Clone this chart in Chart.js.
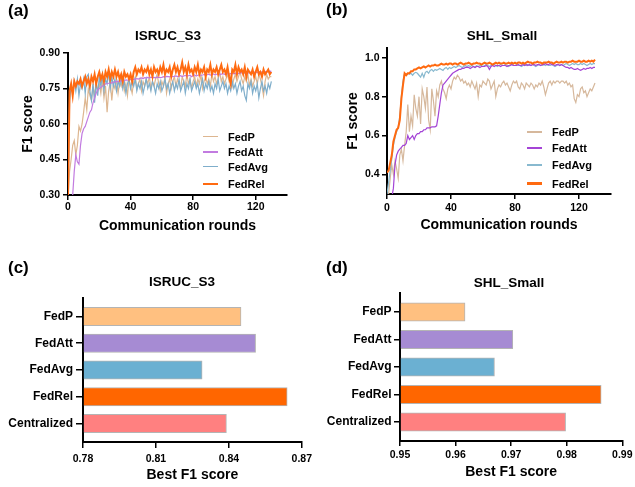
<!DOCTYPE html>
<html>
<head>
<meta charset="utf-8">
<script src="https://cdn.jsdelivr.net/npm/chart.js@4.4.1/dist/chart.umd.min.js"></script>
<style>
  body { margin: 0; background: #fff; }
  #page { position: relative; width: 635px; height: 487px; background: #fff; overflow: hidden;
          font-family: "Liberation Sans", Arial, sans-serif; font-weight: bold; color: #000; }
  canvas { position: absolute; }
  .lbl { position: absolute; font-size: 17px; line-height: 20px; }
  .ttl { position: absolute; font-size: 13.5px; line-height: 16px; transform: translate(-50%, -50%); white-space: nowrap; }
  .leg { position: absolute; font-size: 11px; line-height: 12px; white-space: nowrap; }
  .leg span { display: inline-block; vertical-align: middle; }
</style>
</head>
<body>
<div id="page">
  <canvas id="chartA" width="317" height="243" style="left:0;top:0"></canvas>
  <canvas id="chartB" width="317" height="243" style="left:318px;top:0"></canvas>
  <canvas id="chartC" width="317" height="237" style="left:0;top:250px"></canvas>
  <canvas id="chartD" width="317" height="237" style="left:318px;top:250px"></canvas>
</div>
<script>
'use strict';

/*********** DATA ***********/
var rounds = [];
for (var r = 0; r <= 130; r++) { rounds.push(r); }

var methods = ['FedP', 'FedAtt', 'FedAvg', 'FedRel'];
var barCategories = ['FedP', 'FedAtt', 'FedAvg', 'FedRel', 'Centralized'];
var barIndex = [0, 1, 2, 3, 4];

// ISRUC_S3, F1 per communication round
var isrucFedP = [0.28,0.40,0.45,0.51,0.53,0.47,0.51,0.59,0.57,0.60,
  0.65,0.71,0.66,0.75,0.72,0.70,0.76,0.72,0.78,0.74,
  0.77,0.73,0.79,0.71,0.76,0.65,0.74,0.78,0.70,0.77,
  0.75,0.79,0.73,0.78,0.76,0.80,0.74,0.77,0.72,0.79,
  0.76,0.73,0.78,0.80,0.75,0.77,0.79,0.74,0.78,0.76,
  0.79,0.77,0.80,0.75,0.78,0.76,0.79,0.81,0.77,0.74,
  0.78,0.76,0.80,0.73,0.77,0.79,0.75,0.78,0.80,0.76,
  0.79,0.77,0.75,0.80,0.78,0.76,0.81,0.77,0.79,0.75,
  0.78,0.80,0.76,0.79,0.77,0.81,0.75,0.78,0.80,0.77,
  0.79,0.76,0.81,0.78,0.80,0.77,0.79,0.82,0.78,0.80,
  0.77,0.79,0.81,0.78,0.80,0.76,0.79,0.81,0.78,0.80,
  0.82,0.79,0.77,0.80,0.78,0.81,0.76,0.79,0.76,0.78,
  0.80,0.77,0.81,0.79,0.76,0.72,0.78,0.81,0.79,0.80,
  0.80];
var isrucFedAtt = [0.20,0.22,0.25,0.30,0.40,0.47,0.44,0.43,0.51,0.56,
  0.58,0.59,0.61,0.63,0.65,0.66,0.69,0.71,0.73,0.745,
  0.75,0.755,0.76,0.765,0.77,0.77,0.772,0.775,0.773,0.777,
  0.778,0.78,0.779,0.782,0.78,0.784,0.783,0.786,0.785,0.787,
  0.788,0.786,0.79,0.789,0.792,0.79,0.793,0.795,0.792,0.796,
  0.795,0.797,0.794,0.798,0.796,0.797,0.795,0.798,0.797,0.796,
  0.797,0.80,0.798,0.801,0.80,0.799,0.802,0.80,0.801,0.803,
  0.80,0.802,0.804,0.80,0.803,0.805,0.802,0.804,0.806,0.80,
  0.805,0.807,0.803,0.806,0.808,0.805,0.807,0.809,0.806,0.808,
  0.81,0.807,0.809,0.811,0.808,0.81,0.812,0.809,0.811,0.813,
  0.81,0.812,0.814,0.811,0.813,0.815,0.812,0.814,0.816,0.813,
  0.815,0.817,0.814,0.816,0.818,0.815,0.817,0.819,0.816,0.818,
  0.82,0.817,0.819,0.821,0.818,0.82,0.822,0.819,0.821,0.823,
  0.822];
var isrucFedAvg = [0.30,0.70,0.76,0.73,0.78,0.74,0.79,0.72,0.77,0.75,
  0.79,0.73,0.80,0.81,0.74,0.70,0.77,0.69,0.78,0.72,
  0.80,0.76,0.81,0.74,0.79,0.77,0.82,0.75,0.80,0.76,
  0.79,0.74,0.78,0.76,0.80,0.75,0.78,0.73,0.77,0.79,
  0.75,0.78,0.76,0.79,0.74,0.77,0.75,0.78,0.73,0.76,
  0.79,0.75,0.77,0.74,0.78,0.76,0.73,0.77,0.75,0.78,
  0.74,0.76,0.79,0.75,0.77,0.73,0.76,0.78,0.74,0.77,
  0.75,0.79,0.74,0.76,0.78,0.73,0.77,0.75,0.79,0.74,
  0.76,0.78,0.75,0.77,0.73,0.76,0.79,0.74,0.77,0.75,
  0.78,0.74,0.76,0.73,0.77,0.75,0.79,0.74,0.76,0.78,
  0.75,0.77,0.73,0.76,0.74,0.78,0.75,0.77,0.73,0.76,
  0.78,0.74,0.76,0.72,0.70,0.77,0.75,0.78,0.73,0.76,
  0.74,0.77,0.71,0.75,0.78,0.74,0.76,0.73,0.77,0.75,
  0.78];
var isrucFedRel = [0.30,0.74,0.77,0.72,0.78,0.76,0.78,0.77,0.79,0.76,
  0.78,0.80,0.77,0.79,0.76,0.80,0.78,0.81,0.77,0.80,
  0.82,0.79,0.81,0.78,0.82,0.80,0.83,0.79,0.82,0.80,
  0.83,0.80,0.82,0.79,0.81,0.78,0.82,0.80,0.81,0.79,
  0.81,0.78,0.82,0.84,0.81,0.83,0.82,0.84,0.81,0.83,
  0.82,0.84,0.81,0.83,0.80,0.84,0.82,0.83,0.81,0.84,
  0.82,0.85,0.81,0.83,0.82,0.84,0.80,0.83,0.85,0.82,
  0.84,0.81,0.83,0.86,0.82,0.84,0.81,0.85,0.82,0.83,
  0.81,0.84,0.82,0.85,0.81,0.83,0.82,0.84,0.80,0.83,
  0.82,0.85,0.81,0.83,0.82,0.84,0.81,0.83,0.85,0.82,
  0.83,0.81,0.84,0.80,0.77,0.83,0.82,0.85,0.81,0.84,
  0.82,0.83,0.81,0.84,0.80,0.83,0.82,0.81,0.83,0.80,
  0.82,0.84,0.81,0.82,0.80,0.83,0.81,0.82,0.83,0.81,
  0.82];

// SHL_Small, F1 per communication round
var shlFedP = [0.22,0.30,0.38,0.45,0.40,0.47,0.43,0.38,0.50,0.53,
  0.47,0.55,0.62,0.76,0.62,0.70,0.65,0.81,0.74,0.70,
  0.80,0.66,0.84,0.80,0.74,0.85,0.68,0.63,0.84,0.78,
  0.70,0.83,0.80,0.86,0.88,0.84,0.82,0.79,0.84,0.86,
  0.84,0.88,0.90,0.89,0.91,0.90,0.88,0.89,0.87,0.88,
  0.86,0.87,0.85,0.88,0.86,0.84,0.87,0.80,0.86,0.85,
  0.88,0.87,0.86,0.89,0.88,0.84,0.86,0.88,0.80,0.84,
  0.86,0.85,0.87,0.88,0.86,0.87,0.85,0.83,0.86,0.88,
  0.87,0.88,0.85,0.84,0.87,0.86,0.84,0.87,0.86,0.85,
  0.87,0.86,0.84,0.86,0.85,0.87,0.86,0.88,0.85,0.81,
  0.84,0.87,0.88,0.86,0.88,0.87,0.88,0.88,0.87,0.88,
  0.88,0.87,0.88,0.86,0.87,0.85,0.86,0.79,0.77,0.81,
  0.80,0.84,0.85,0.82,0.83,0.80,0.82,0.84,0.83,0.85,
  0.87];
var shlFedAtt = [0.20,0.22,0.25,0.28,0.33,0.45,0.50,0.52,0.53,0.54,
  0.55,0.55,0.56,0.60,0.58,0.59,0.60,0.58,0.60,0.61,
  0.61,0.62,0.62,0.63,0.63,0.64,0.64,0.64,0.645,0.645,
  0.645,0.65,0.70,0.76,0.82,0.86,0.87,0.88,0.89,0.90,
  0.91,0.92,0.925,0.93,0.935,0.94,0.94,0.945,0.945,0.95,
  0.95,0.95,0.945,0.95,0.955,0.95,0.955,0.955,0.95,0.955,
  0.955,0.955,0.96,0.955,0.94,0.955,0.96,0.955,0.96,0.96,
  0.96,0.955,0.96,0.96,0.96,0.955,0.96,0.96,0.965,0.96,
  0.96,0.96,0.965,0.96,0.96,0.965,0.96,0.965,0.96,0.965,
  0.96,0.965,0.965,0.96,0.965,0.965,0.96,0.965,0.965,0.97,
  0.965,0.965,0.97,0.965,0.965,0.96,0.965,0.965,0.96,0.965,
  0.96,0.955,0.95,0.95,0.945,0.95,0.945,0.94,0.94,0.945,
  0.94,0.935,0.94,0.945,0.94,0.945,0.945,0.95,0.945,0.95,
  0.95];
var shlFedAvg = [0.30,0.36,0.42,0.48,0.55,0.59,0.62,0.64,0.70,0.80,
  0.88,0.92,0.91,0.92,0.915,0.92,0.91,0.92,0.925,0.92,
  0.91,0.90,0.92,0.90,0.925,0.93,0.92,0.935,0.94,0.93,
  0.94,0.935,0.94,0.945,0.94,0.935,0.945,0.95,0.94,0.95,
  0.945,0.95,0.955,0.95,0.955,0.96,0.955,0.95,0.955,0.96,
  0.955,0.96,0.955,0.96,0.955,0.95,0.96,0.955,0.96,0.96,
  0.955,0.96,0.965,0.96,0.955,0.96,0.96,0.965,0.96,0.955,
  0.96,0.965,0.96,0.96,0.965,0.96,0.955,0.96,0.965,0.96,
  0.96,0.965,0.96,0.96,0.955,0.96,0.965,0.96,0.965,0.96,
  0.96,0.965,0.96,0.955,0.96,0.965,0.96,0.96,0.965,0.96,
  0.965,0.96,0.96,0.965,0.96,0.955,0.96,0.965,0.96,0.965,
  0.96,0.965,0.97,0.965,0.96,0.965,0.97,0.965,0.97,0.965,
  0.965,0.97,0.965,0.97,0.965,0.96,0.965,0.97,0.965,0.97,
  0.97];
var shlFedRel = [0.41,0.42,0.46,0.50,0.57,0.60,0.63,0.64,0.68,0.79,
  0.86,0.92,0.91,0.92,0.92,0.93,0.93,0.94,0.94,0.945,
  0.95,0.945,0.95,0.955,0.95,0.955,0.96,0.955,0.96,0.96,
  0.965,0.96,0.96,0.965,0.97,0.965,0.965,0.97,0.965,0.97,
  0.97,0.965,0.97,0.97,0.965,0.97,0.975,0.97,0.965,0.97,
  0.97,0.975,0.97,0.965,0.97,0.97,0.975,0.97,0.97,0.965,
  0.97,0.975,0.97,0.97,0.975,0.97,0.965,0.97,0.975,0.97,
  0.975,0.97,0.97,0.975,0.97,0.97,0.975,0.97,0.975,0.97,
  0.975,0.97,0.975,0.975,0.97,0.975,0.97,0.975,0.98,0.975,
  0.975,0.97,0.975,0.975,0.98,0.975,0.975,0.97,0.975,0.975,
  0.975,0.98,0.975,0.975,0.97,0.975,0.98,0.975,0.975,0.98,
  0.975,0.98,0.98,0.975,0.98,0.98,0.985,0.98,0.98,0.98,
  0.985,0.98,0.98,0.985,0.98,0.98,0.985,0.98,0.985,0.98,
  0.99];

// best F1 score per method
var isrucBest = [0.845, 0.851, 0.829, 0.864, 0.839];
var shlBest = [0.9617, 0.9703, 0.9670, 0.9862, 0.9798];

// ticks
var roundTicks = [0, 40, 80, 120];
var roundLabels = ['0', '40', '80', '120'];
var isrucYTicks = [0.30, 0.45, 0.60, 0.75, 0.90];
var isrucYLabels = ['0.30', '0.45', '0.60', '0.75', '0.90'];
var shlYTicks = [0.4, 0.6, 0.8, 1.0];
var shlYLabels = ['0.4', '0.6', '0.8', '1.0'];
var isrucBestTicks = [0.78, 0.81, 0.84, 0.87];
var isrucBestLabels = ['0.78', '0.81', '0.84', '0.87'];
var shlBestTicks = [0.95, 0.96, 0.97, 0.98, 0.99];
var shlBestLabels = ['0.95', '0.96', '0.97', '0.98', '0.99'];

/*********** STYLES ***********/
var isrucColors = ['#DDB690', '#C27BE0', '#7FAECB', '#FF6A10'];
var shlColors = ['#D6B89C', '#A444D6', '#88B9CF', '#FF6A10'];
var lineOrder = [3, 1, 2, 0];
var barColors = ['#FFC080', '#A68BD3', '#6BB0D2', '#FF6600', '#FF8080'];
var fontFamily = '"Liberation Sans", Arial, sans-serif';
var tickFont = { family: fontFamily, size: 10.5, weight: 'bold' };
var catFont = { family: fontFamily, size: 12, weight: 'bold' };
var axisTitleFont = { family: fontFamily, size: 14, weight: 'bold' };

/*********** FUNCTIONS ***********/
function fixedTicks(values) {
  return function (scale) {
    scale.ticks = values.map(function (v) { return { value: v }; });
  };
}

function axisGrid(tickLength) {
  return { display: true, drawOnChartArea: false, drawTicks: true, offset: false, tickLength: tickLength, color: '#000', lineWidth: 1.5 };
}

var axisBorder = { display: true, color: '#000', width: 2 };

function drawLineChart(canvasId, series, colors, yMin, yMax, yTicks, yLabels, box) {
  var datasets = [];
  for (var i = 0; i < methods.length; i++) {
    datasets.push({
      label: methods[i],
      data: series[i],
      borderColor: colors[i],
      backgroundColor: colors[i],
      borderWidth: methods[i] === 'FedRel' ? 2 : 1.2,
      pointRadius: 0,
      tension: 0,
      fill: false,
      order: lineOrder[i]
    });
  }
  new Chart(document.getElementById(canvasId), {
    type: 'line',
    data: { labels: rounds, datasets: datasets },
    options: {
      responsive: false,
      animation: false,
      layout: { padding: box.padding },
      plugins: { legend: { display: false }, tooltip: { enabled: false } },
      scales: {
        x: {
          type: 'linear', min: 0, max: 140,
          afterBuildTicks: fixedTicks(roundTicks),
          afterFit: function (s) { s.height = box.xHeight; },
          ticks: { callback: function (v, idx) { return roundLabels[idx]; }, font: tickFont, color: '#000', padding: box.xPad, maxRotation: 0 },
          grid: axisGrid(box.xTick),
          border: axisBorder,
          title: { display: true, text: 'Communication rounds', font: axisTitleFont, color: '#000', padding: 0 }
        },
        y: {
          type: 'linear', min: yMin, max: yMax,
          afterBuildTicks: fixedTicks(yTicks),
          afterFit: function (s) { s.width = box.yWidth; },
          ticks: { callback: function (v, idx) { return yLabels[idx]; }, font: tickFont, color: '#000', padding: box.yPad },
          grid: axisGrid(box.yTick),
          border: axisBorder,
          title: { display: true, text: 'F1 score', font: axisTitleFont, color: '#000', padding: 0 }
        }
      }
    }
  });
}

function drawBarChart(canvasId, values, xMin, xMax, xTicks, xLabels, box) {
  new Chart(document.getElementById(canvasId), {
    type: 'bar',
    data: {
      labels: barIndex,
      datasets: [{
        data: values,
        backgroundColor: barColors,
        borderColor: '#B4B4B4',
        borderWidth: 1,
        borderSkipped: 'start',
        barThickness: 18.5,
        base: xMin
      }]
    },
    options: {
      indexAxis: 'y',
      responsive: false,
      animation: false,
      layout: { padding: box.padding },
      plugins: { legend: { display: false }, tooltip: { enabled: false } },
      scales: {
        x: {
          type: 'linear', min: xMin, max: xMax,
          afterBuildTicks: fixedTicks(xTicks),
          afterFit: function (s) { s.height = box.xHeight; },
          ticks: { callback: function (v, idx) { return xLabels[idx]; }, font: tickFont, color: '#000', padding: box.xPad, maxRotation: 0 },
          grid: axisGrid(box.xTick),
          border: axisBorder,
          title: { display: true, text: 'Best F1 score', font: axisTitleFont, color: '#000', padding: 0 }
        },
        y: {
          type: 'linear', min: -0.69, max: 4.69, reverse: true, offset: false,
          afterBuildTicks: fixedTicks(barIndex),
          afterFit: function (s) { s.width = box.yWidth; },
          ticks: { callback: function (v, idx) { return barCategories[idx]; }, font: catFont, color: '#000', padding: box.yPad },
          grid: axisGrid(box.yTick),
          border: axisBorder
        }
      }
    }
  });
}

function addText(cls, text, left, top) {
  var div = document.createElement('div');
  div.className = cls;
  div.textContent = text;
  div.style.left = left + 'px';
  div.style.top = top + 'px';
  document.getElementById('page').append(div);
}

function addLegend(colors, left, rowCenters, textGap) {
  for (var i = 0; i < methods.length; i++) {
    var row = document.createElement('div');
    row.className = 'leg';
    row.style.left = left + 'px';
    row.style.top = (rowCenters[i] - 6) + 'px';
    var line = document.createElement('span');
    line.style.width = '15px';
    line.style.height = methods[i] === 'FedRel' ? '2.5px' : '1.5px';
    line.style.background = colors[i];
    line.style.marginRight = textGap + 'px';
    var label = document.createElement('span');
    label.textContent = methods[i];
    row.append(line);
    row.append(label);
    document.getElementById('page').append(row);
  }
}

/*********** SETUP ***********/
function setup() {
  drawLineChart('chartA', [isrucFedP, isrucFedAtt, isrucFedAvg, isrucFedRel], isrucColors,
    0.30, 0.90, isrucYTicks, isrucYLabels,
    { padding: { left: 20, top: 53, right: 30, bottom: 8 }, yWidth: 48, xHeight: 40, xTick: 5, xPad: 1, yTick: 5, yPad: 3 });
  drawLineChart('chartB', [shlFedP, shlFedAtt, shlFedAvg, shlFedRel], shlColors,
    0.30, 1.05, shlYTicks, shlYLabels,
    { padding: { left: 27, top: 48, right: 24, bottom: 9 }, yWidth: 42, xHeight: 40, xTick: 5, xPad: 2.5, yTick: 5, yPad: 2.5 });
  drawBarChart('chartC', isrucBest, 0.78, 0.87, isrucBestTicks, isrucBestLabels,
    { padding: { left: 8, top: 48, right: 15, bottom: 3 }, yWidth: 75, xHeight: 42, xTick: 6, xPad: 5, yTick: 7, yPad: 3 });
  drawBarChart('chartD', shlBest, 0.95, 0.99, shlBestTicks, shlBestLabels,
    { padding: { left: 8, top: 43, right: 12, bottom: 6 }, yWidth: 74, xHeight: 40, xTick: 5, xPad: 2.5, yTick: 6, yPad: 2.5 });

  addText('lbl', '(a)', 8, 1);
  addText('lbl', '(b)', 326, 0);
  addText('lbl', '(c)', 8, 258);
  addText('lbl', '(d)', 326, 258);
  addText('ttl', 'ISRUC_S3', 168, 35.5);
  addText('ttl', 'SHL_Small', 502, 35.5);
  addText('ttl', 'ISRUC_S3', 182, 282);
  addText('ttl', 'SHL_Small', 509, 283);

  addLegend(isrucColors, 203, [135.5, 150.8, 165.5, 183], 10);
  addLegend(shlColors, 527, [131, 147, 164, 182.5], 10);
}

setup();
</script>
</body>
</html>
